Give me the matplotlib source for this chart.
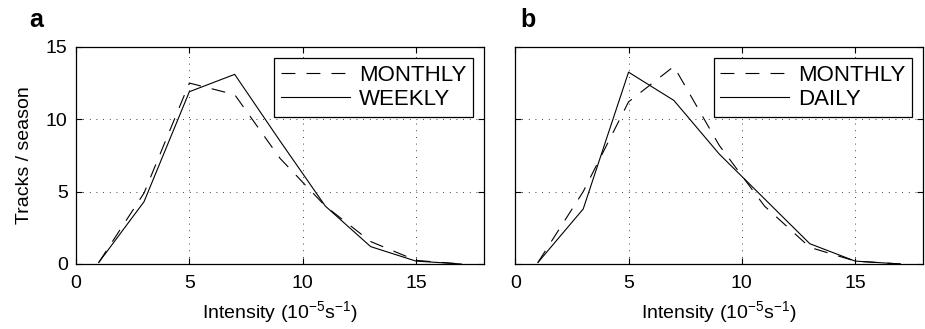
import matplotlib
matplotlib.use('Agg')
import matplotlib.pyplot as plt

# 强度分档 (bin centres)
intensity = [1, 3, 5, 7, 9, 11, 13, 15, 17]

# panel a
a_monthly = [0.1, 4.9, 12.5, 11.7, 7.3, 4.0, 1.55, 0.25, 0.0]
a_weekly = [0.1, 4.3, 11.9, 13.1, 8.5, 4.0, 1.2, 0.2, 0.0]

# panel b
b_monthly = [0.1, 5.0, 11.2, 13.65, 8.2, 4.0, 1.15, 0.2, 0.0]
b_daily = [0.1, 3.8, 13.25, 11.3, 7.6, 4.5, 1.4, 0.2, 0.0]

xticks = [0, 5, 10, 15]
yticks = [0, 5, 10, 15]

plt.rcParams['font.family'] = ['Liberation Sans', 'DejaVu Sans']
plt.rcParams['mathtext.fontset'] = 'custom'
plt.rcParams['mathtext.rm'] = 'Liberation Sans'
plt.rcParams['lines.scale_dashes'] = False

fig = plt.figure(figsize=(9.25, 3.29), dpi=100)
ax1 = fig.add_axes([0.0822, 0.1976, 0.441, 0.66])
ax2 = fig.add_axes([0.557, 0.1976, 0.441, 0.66])


def panel(ax, monthly, other, other_name, letter, show_y):
    ax.plot(intensity, monthly, color='black', lw=0.8, dashes=[10, 8], label='MONTHLY')
    ax.plot(intensity, other, color='black', lw=0.8, label=other_name)
    ax.set_xlim(0, 18)
    ax.set_ylim(0, 15)
    ax.set_xticks(xticks)
    ax.set_yticks(yticks)
    ax.grid(True, color='black', lw=0.6, linestyle=(0, (0.6, 4.2)))
    ax.tick_params(direction='in', length=4, width=0.8, top=True, right=True,
                   labelsize=14)
    ax.tick_params(axis='x', pad=8)
    ax.tick_params(axis='y', pad=6)
    if not show_y:
        ax.tick_params(labelleft=False)
    else:
        ax.set_ylabel('Tracks / season', fontsize=14, labelpad=9)
    ax.set_xlabel(r'Intensity ($\mathregular{10^{-5}s^{-1}}$)', fontsize=14, labelpad=5)
    for s in ax.spines.values():
        s.set_linewidth(0.9)
    leg = ax.legend(loc='upper right', bbox_to_anchor=(0.973, 0.949), borderaxespad=0,
                    fontsize=16, handlelength=3.1, handletextpad=0.4,
                    labelspacing=0.15, borderpad=0.3, fancybox=False,
                    framealpha=1, edgecolor='black')
    leg.get_frame().set_linewidth(0.9)
    ax.text(-0.115, 1.09, letter, transform=ax.transAxes, fontsize=18,
            fontweight='bold', va='baseline', ha='left')


panel(ax1, a_monthly, a_weekly, 'WEEKLY', 'a', True)
panel(ax2, b_monthly, b_daily, 'DAILY', 'b', False)
ax2.texts[0].set_x(0.012)

plt.savefig('out.png', dpi=100)
